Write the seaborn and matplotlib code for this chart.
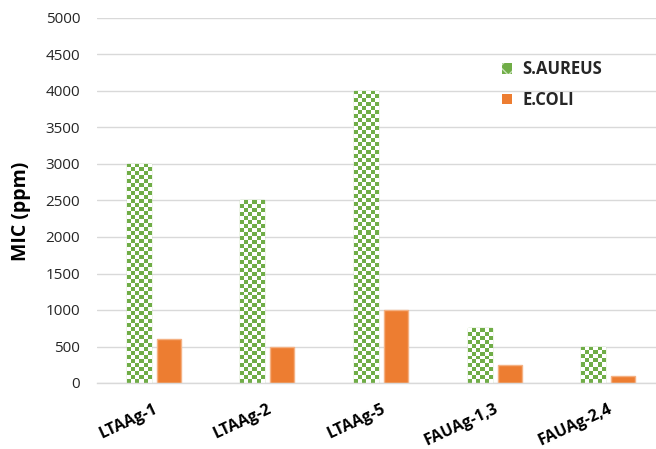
import numpy as np
import pandas as pd
import matplotlib
matplotlib.use("Agg")
import matplotlib.pyplot as plt
import seaborn as sns
from matplotlib.patches import Patch

categories = ["LTAAg-1", "LTAAg-2", "LTAAg-5", "FAUAg-1,3", "FAUAg-2,4"]
s_aureus = [3000, 2500, 4000, 750, 500]
e_coli = [600, 500, 1000, 250, 100]
series_names = ["S.AUREUS", "E.COLI"]
y_ticks = [0, 500, 1000, 1500, 2000, 2500, 3000, 3500, 4000, 4500, 5000]

GREEN = "#70AD47"
GREEN_EDGE = "#A9D18E"
ORANGE = "#ED7D31"
ORANGE_EDGE = "#F4B183"

df = pd.DataFrame({
    "category": categories * 2,
    "series": [series_names[0]] * len(categories) + [series_names[1]] * len(categories),
    "value": s_aureus + e_coli,
})

sns.set_theme(style="white")
plt.rcParams["font.family"] = ["Open Sans", "DejaVu Sans"]

fig = plt.figure(figsize=(6.56, 4.49), dpi=100)
ax = fig.add_axes([97 / 656, 1 - 383 / 449, (665 - 97) / 656, (383 - 18) / 449])

sns.barplot(data=df, x="category", y="value", hue="series", order=categories,
            hue_order=series_names, palette=[GREEN, ORANGE], width=0.53, gap=0.2,
            ax=ax, legend=False, saturation=1)

ax.set_xlim(-0.5, len(categories) - 0.5)
ax.set_ylim(0, 5000)
ax.set_yticks(y_ticks)
ax.set_yticklabels([str(t) for t in y_ticks], fontsize=11, color="#262626")
ax.yaxis.grid(True, color="#D9D9D9", linewidth=1)
ax.set_axisbelow(True)
for s in ["left", "right", "top"]:
    ax.spines[s].set_visible(False)
ax.spines["bottom"].set_color("#D9D9D9")
ax.spines["bottom"].set_linewidth(1)
ax.tick_params(axis="both", length=0)
ax.tick_params(axis="y", pad=12)
ax.set_xlabel("")
ax.set_ylabel("MIC (ppm)", fontsize=14, fontweight="bold", color="#000000")
ax.yaxis.set_label_coords((31 - 97) / 568, (383 - 211) / 365)
ax.set_xticks(range(len(categories)))
ax.set_xticklabels(categories, rotation=25, ha="right", va="top", rotation_mode="anchor",
                   fontsize=11.5, fontweight="bold", color="#000000")
ax.tick_params(axis="x", pad=13)

# style bars and add checker texture to S.AUREUS bars
green_cont, orange_cont = ax.containers[0], ax.containers[1]
for p in orange_cont:
    p.set_edgecolor(ORANGE_EDGE)
    p.set_linewidth(1)

fig.canvas.draw()
cell = 4
for p in green_cont:
    p.set_facecolor("white")
    p.set_edgecolor(GREEN_EDGE)
    p.set_linewidth(1)
    x0, y0 = p.get_x(), p.get_y()
    w, h = p.get_width(), p.get_height()
    (px0, py0), (px1, py1) = ax.transData.transform([(x0, y0), (x0 + w, y0 + h)])
    nx = max(1, int(round((px1 - px0) / cell)))
    ny = max(1, int(round((py1 - py0) / cell)))
    yy, xx = np.mgrid[0:ny, 0:nx]
    checker = ((xx + yy) % 2 == 0)
    img = np.ones((ny, nx, 4))
    g = matplotlib.colors.to_rgba(GREEN)
    img[checker] = g
    im = ax.imshow(img, extent=(x0, x0 + w, y0, y0 + h), origin="lower",
                   aspect="auto", interpolation="nearest", zorder=p.get_zorder() + 0.1)
    im.set_clip_path(p)
ax.set_xlim(-0.5, len(categories) - 0.5)
ax.set_ylim(0, 5000)

handles = [
    Patch(facecolor=GREEN, edgecolor="#C5E0B4", hatch="xx", linewidth=0, label=series_names[0]),
    Patch(facecolor=ORANGE, edgecolor=ORANGE, linewidth=0, label=series_names[1]),
]
leg = ax.legend(handles=handles, loc="upper left", bbox_to_anchor=((487 - 97) / 568, 0.925),
                frameon=False, prop={"weight": "bold", "size": 12}, handlelength=0.6,
                handleheight=0.6, handletextpad=0.6, labelspacing=0.75)

fig.savefig("out.png", dpi=100)
